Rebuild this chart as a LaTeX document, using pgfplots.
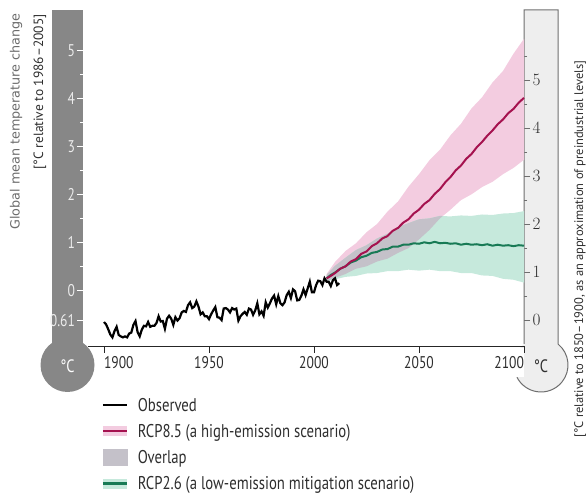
\documentclass[border=0pt]{standalone}
\usepackage{fontspec}
\setmainfont{PT Sans}
\newfontfamily\cond{PT Sans}[FakeStretch=0.8]
\newfontfamily\labelfont{DejaVu Sans}
\usepackage{pgfplots}
\pgfplotsset{compat=1.18}
\usepackage{pgfplotstable}

\definecolor{thermodark}{HTML}{878787}
\definecolor{thermolight}{HTML}{EEEEEE}
\definecolor{thermoline}{HTML}{6E6E6E}
\definecolor{pinkband}{HTML}{F3CCE0}
\definecolor{magline}{HTML}{A5124F}
\definecolor{greenband}{HTML}{C6E9DC}
\definecolor{greenline}{HTML}{187A55}
\definecolor{overlapgray}{HTML}{C4C1C9}
\definecolor{txt}{HTML}{2E2E2E}

\pgfplotstableread{
year v
1900 -0.65
1901 -0.70
1902 -0.80
1903 -0.91
1904 -0.97
1905 -0.84
1906 -0.75
1907 -0.92
1908 -0.95
1909 -0.97
1910 -0.95
1911 -0.97
1912 -0.89
1913 -0.87
1914 -0.71
1915 -0.63
1916 -0.86
1917 -0.95
1918 -0.81
1919 -0.73
1920 -0.74
1921 -0.65
1922 -0.75
1923 -0.73
1924 -0.73
1925 -0.67
1926 -0.53
1927 -0.64
1928 -0.63
1929 -0.79
1930 -0.58
1931 -0.52
1932 -0.58
1933 -0.71
1934 -0.55
1935 -0.62
1936 -0.57
1937 -0.45
1938 -0.42
1939 -0.44
1940 -0.30
1941 -0.24
1942 -0.36
1943 -0.33
1944 -0.22
1945 -0.33
1946 -0.49
1947 -0.45
1948 -0.53
1949 -0.53
1950 -0.59
1951 -0.49
1952 -0.41
1953 -0.34
1954 -0.55
1955 -0.56
1956 -0.61
1957 -0.37
1958 -0.36
1959 -0.39
1960 -0.45
1961 -0.36
1962 -0.39
1963 -0.37
1964 -0.62
1965 -0.53
1966 -0.48
1967 -0.44
1968 -0.50
1969 -0.37
1970 -0.39
1971 -0.50
1972 -0.41
1973 -0.26
1974 -0.49
1975 -0.43
1976 -0.52
1977 -0.24
1978 -0.35
1979 -0.26
1980 -0.16
1981 -0.10
1982 -0.28
1983 -0.11
1984 -0.26
1985 -0.30
1986 -0.24
1987 -0.09
1988 -0.02
1989 -0.15
1990 0.03
1991 -0.01
1992 -0.20
1993 -0.19
1994 -0.10
1995 0.03
1996 -0.09
1997 0.05
1998 0.19
1999 -0.03
2000 -0.03
2001 0.12
2002 0.21
2003 0.20
2004 0.12
2005 0.26
2006 0.19
2007 0.19
2008 0.10
2009 0.22
2010 0.26
2011 0.12
2012 0.16
}\observed

\pgfplotstableread{
year v
2006 0.26
2008 0.31
2010 0.37
2012.5 0.46
2015 0.51
2017.5 0.61
2020 0.66
2022.5 0.77
2025 0.82
2027.5 0.93
2030 0.99
2032.5 1.09
2035 1.14
2037.5 1.25
2040 1.31
2042.5 1.42
2045 1.49
2047.5 1.61
2050 1.69
2052.5 1.81
2055 1.89
2057.5 2.02
2060 2.12
2062.5 2.26
2065 2.37
2067.5 2.51
2070 2.61
2072.5 2.75
2075 2.85
2077.5 2.99
2080 3.10
2082.5 3.23
2085 3.34
2087.5 3.47
2090 3.57
2092.5 3.70
2095 3.79
2097.5 3.92
2100 4.02
}\rcpEmean

\pgfplotstableread{
year v
2006 0.26
2008 0.33
2010 0.38
2012.5 0.46
2015 0.51
2017.5 0.59
2020 0.63
2022.5 0.70
2025 0.73
2027.5 0.79
2030 0.81
2032.5 0.86
2035 0.87
2037.5 0.92
2040 0.92
2042.5 0.96
2045 0.96
2047.5 0.99
2050 0.98
2052.5 1.01
2055 0.99
2057.5 1.02
2060 0.99
2062.5 1.00
2065 0.98
2067.5 0.99
2070 0.96
2072.5 0.98
2075 0.96
2077.5 0.97
2080 0.95
2082.5 0.97
2085 0.94
2087.5 0.96
2090 0.94
2092.5 0.95
2095 0.93
2097.5 0.95
2100 0.94
}\rcpTmean

\begin{document}
\begin{tikzpicture}
\useasboundingbox (0bp,0bp) rectangle (586bp,499bp);

% left thermometer
\fill[thermodark] (52bp,134bp) rectangle (83bp,489bp);
\fill[thermodark] (67.5bp,134bp) circle[radius=27bp];
\node[white, font=\cond\fontsize{18}{20}\selectfont] at (67.5bp,133bp) {°C};

% right thermometer
\fill[thermolight] (524bp,134bp) rectangle (558bp,489bp);
\fill[thermolight] (541bp,134bp) circle[radius=27bp];
\draw[thermoline, line width=1bp] (524bp,155bp)--(524bp,489bp)--(558bp,489bp)--(558bp,155bp) arc[start angle=51,end angle=-153,radius=27bp];
\fill[white] (488bp,122bp) rectangle (523.5bp,151bp);
\node[txt, font=\cond\fontsize{18}{20}\selectfont] at (541bp,133bp) {°C};

% axis titles
\node[rotate=90, anchor=east, text=black!58, font=\labelfont\fontsize{12.8}{14}\selectfont] at (16bp,489bp) {Global mean temperature change};
\node[rotate=90, anchor=east, text=txt, font=\fontsize{13.5}{15}\selectfont] at (40bp,488bp) {[°C relative to 1986–2005]};
\node[rotate=90, text=txt, font=\fontsize{12.5}{14}\selectfont] at (580bp,250bp) {[°C relative to 1850–1900, as an approximation of preindustrial levels]};

% left scale
\begin{axis}[at={(83bp,153bp)}, anchor=south west, scale only axis,
  width=2bp, height=336bp, xmin=0, xmax=1, ymin=-1.15, ymax=5.85,
  hide x axis, axis y line*=left, y axis line style={draw=none},
  ytick={-0.61,0,1,2,3,4,5}, yticklabels={0.61,0,1,2,3,4,5},
  minor ytick={0.5,1.5,2.5,3.5,4.5},
  tick align=outside, major tick length=6bp, minor tick length=3bp,
  tick style={white, line width=0.9bp},
  yticklabel style={text=white!92!black, font=\cond\fontsize{17}{19}\selectfont, xshift=1.5bp}]
\addplot[draw=none] coordinates {(0,0) (1,1)};
\end{axis}

% right scale
\begin{axis}[at={(524bp,153bp)}, anchor=south east, scale only axis,
  width=2bp, height=336bp, xmin=0, xmax=1, ymin=-0.54, ymax=6.46,
  hide x axis, axis y line*=right, y axis line style={draw=none},
  ytick={0,1,2,3,4,5},
  minor ytick={0.5,1.5,2.5,3.5,4.5,5.5},
  tick align=outside, major tick length=6bp, minor tick length=3bp,
  tick style={thermoline, line width=0.9bp},
  yticklabel style={text=txt, font=\cond\fontsize{17}{19}\selectfont, xshift=-1bp}]
\addplot[draw=none] coordinates {(0,0) (1,1)};
\end{axis}

% main axis
\begin{axis}[at={(88bp,153bp)}, anchor=south west, scale only axis,
  width=436bp, height=336bp,
  xmin=1892.38, xmax=2100, ymin=-1.15, ymax=5.85,
  axis x line*=bottom, hide y axis,
  axis line style={-, line width=1bp, black!85},
  xtick={1900,1950,2000,2050,2100},
  xticklabels={\makebox[0pt][l]{1900},1950,2000,2050,\makebox[0pt][r]{2100}},
  tick align=outside, major tick length=7bp,
  tick style={black!85, line width=0.8bp},
  xticklabel style={text=txt, font=\cond\fontsize{17}{19}\selectfont, yshift=0bp},
  legend style={at={(axis description cs:0.022,-0.148)}, anchor=north west,
    draw=none, fill=none, font=\cond\fontsize{18.5}{20}\selectfont, text=txt,
    row sep=7.5bp, inner sep=0pt,
    /tikz/every odd column/.append style={column sep=4bp}},
  legend cell align=left,
  clip=false]

% RCP8.5 band (5-95 %): upper edge forward, lower edge back
\addplot[fill=pinkband, draw=none, forget plot] coordinates {
(2006,0.35)(2010,0.60)(2015,0.83)(2020,0.99)(2025,1.22)(2030,1.39)(2035,1.65)(2040,1.86)(2045,2.17)(2050,2.43)
(2055,2.72)(2060,2.94)(2065,3.24)(2070,3.48)(2075,3.80)(2080,4.03)(2085,4.34)(2090,4.58)(2095,4.94)(2100,5.25)
(2100,2.73)(2095,2.56)(2090,2.43)(2085,2.27)(2080,2.16)(2075,2.01)(2070,1.89)(2065,1.69)(2060,1.51)(2055,1.27)
(2050,1.07)(2045,0.89)(2040,0.79)(2035,0.67)(2030,0.61)(2025,0.51)(2020,0.46)(2015,0.35)(2010,0.27)(2006,0.20)
} -- cycle;
% RCP2.6 band
\addplot[fill=greenband, draw=none, forget plot] coordinates {
(2006,0.33)(2010,0.52)(2015,0.69)(2020,0.85)(2025,0.95)(2030,1.09)(2035,1.19)(2040,1.33)(2045,1.41)(2050,1.49)
(2055,1.51)(2060,1.56)(2065,1.55)(2070,1.57)(2075,1.56)(2080,1.59)(2085,1.58)(2090,1.61)(2095,1.62)(2100,1.66)
(2100,0.17)(2095,0.23)(2090,0.25)(2085,0.31)(2080,0.32)(2075,0.37)(2070,0.37)(2065,0.41)(2060,0.41)(2055,0.44)
(2050,0.42)(2045,0.44)(2040,0.41)(2035,0.41)(2030,0.37)(2025,0.36)(2020,0.31)(2015,0.29)(2010,0.24)(2006,0.20)
} -- cycle;
% overlap of the two bands
\addplot[fill=overlapgray, draw=none, forget plot] coordinates {
(2006,0.33)(2010,0.52)(2015,0.69)(2020,0.85)(2025,0.95)(2030,1.09)(2035,1.19)(2040,1.33)(2045,1.41)(2050,1.49)
(2055,1.51)(2060,1.56)(2061.3,1.557)
(2060,1.51)(2055,1.27)(2050,1.07)(2045,0.89)(2040,0.79)(2035,0.67)(2030,0.61)(2025,0.51)(2020,0.46)(2015,0.35)
(2010,0.27)(2006,0.20)
} -- cycle;

% means
\addplot[greenline, line width=2bp, forget plot] table[x=year,y=v]{\rcpTmean};
\addplot[magline, line width=2bp, forget plot] table[x=year,y=v]{\rcpEmean};
% observed
\addplot[black, line width=2.2bp, forget plot] table[x=year,y=v]{\observed};

\addlegendimage{legend image code/.code={\draw[black, line width=2.2bp] (0bp,0bp)--(24bp,0bp);}}
\addlegendentry{Observed}
\addlegendimage{legend image code/.code={\draw[pinkband, line width=10bp] (0bp,0bp)--(24bp,0bp); \draw[magline, line width=2.2bp] (0bp,0bp)--(24bp,0bp);}}
\addlegendentry{RCP8.5 (a high-emission scenario)}
\addlegendimage{legend image code/.code={\fill[overlapgray] (0bp,-8bp) rectangle (24bp,8bp);}}
\addlegendentry{Overlap}
\addlegendimage{legend image code/.code={\draw[greenband, line width=10bp] (0bp,0bp)--(24bp,0bp); \draw[greenline, line width=2.2bp] (0bp,0bp)--(24bp,0bp);}}
\addlegendentry{RCP2.6 (a low-emission mitigation scenario)}
\end{axis}
\end{tikzpicture}
\end{document}
